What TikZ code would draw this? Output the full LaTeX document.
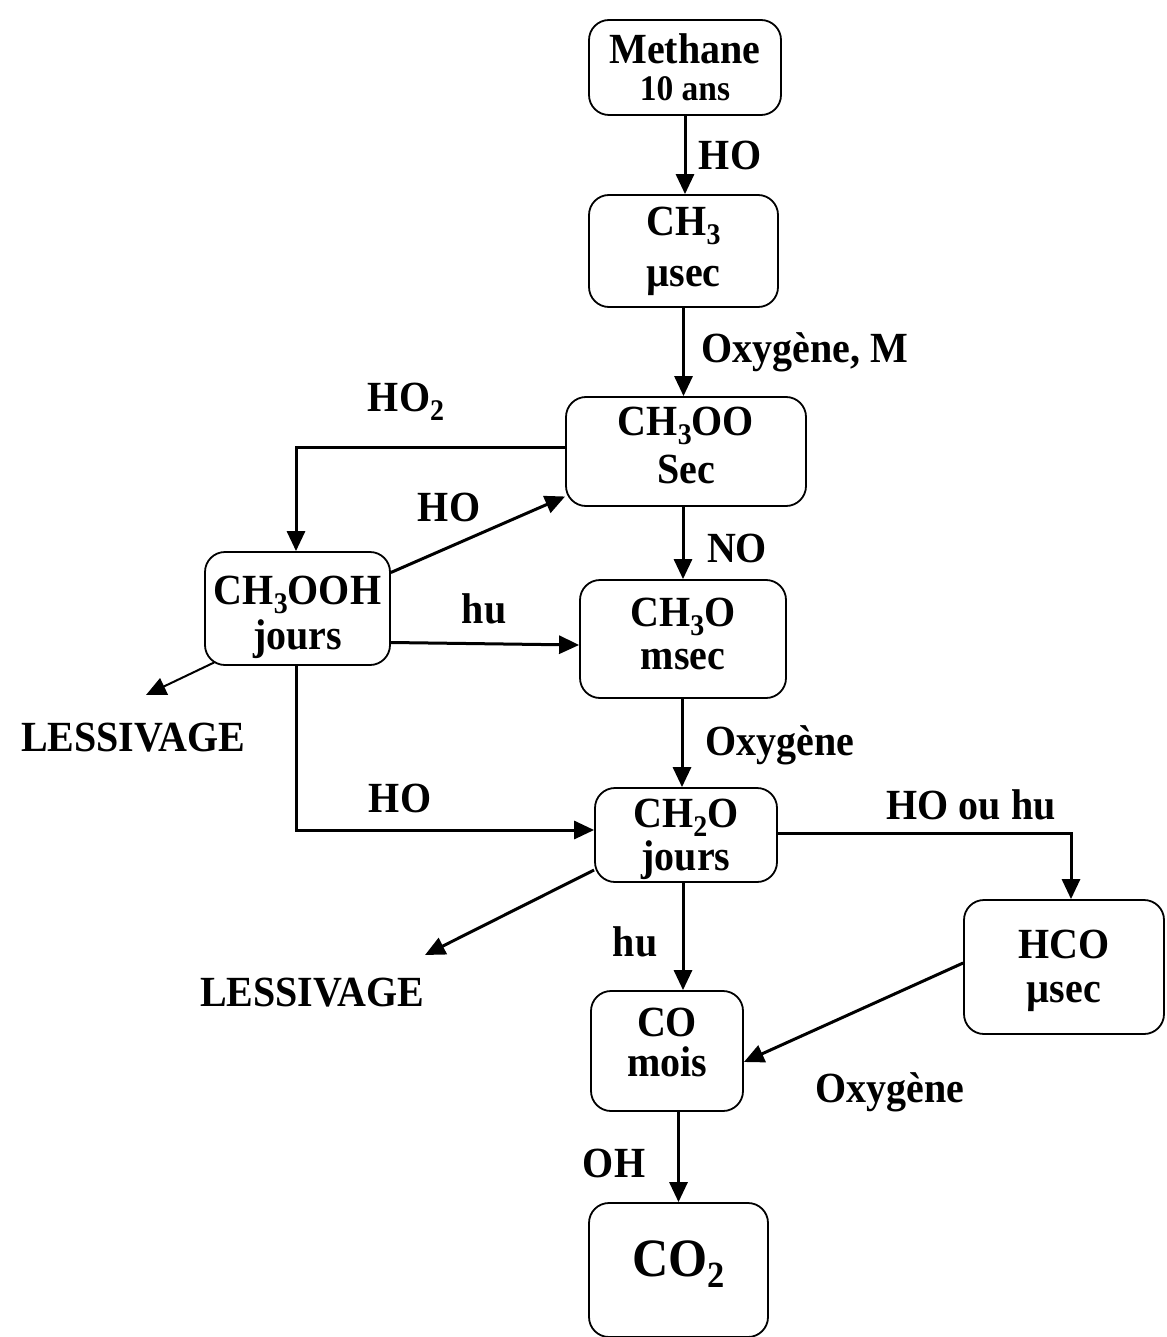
\documentclass[tikz,border=0pt]{standalone}
\usepackage{fontspec}
\setmainfont{Liberation Serif}[FakeStretch=0.93]
\usetikzlibrary{arrows.meta}
\newcommand{\ssub}[1]{\raisebox{-9pt}{\fontsize{30}{30}\selectfont #1}}
\begin{document}
\begin{tikzpicture}[x=1pt,y=-1pt,
 box/.style={draw, line width=1.8pt, rounded corners=20pt, align=center,
   font=\fontsize{43}{42}\selectfont\bfseries, inner sep=0pt},
 arr/.style={line width=3pt, -{Triangle[length=20pt,width=18pt]}},
 thinarr/.style={line width=2pt, -{Triangle[length=20pt,width=18pt]}},
 lbl/.style={font=\fontsize{43}{42}\selectfont\bfseries, inner sep=0pt}]
\useasboundingbox (0,0) rectangle (1166,1337);
\fill[white] (0,0) rectangle (1166,1337);

% boxes
\node[box, minimum width=192pt, minimum height=95pt, text depth=-2pt] (methane) at (685,67.5)
  {Methane\\[-5pt]{\fontsize{36}{36}\selectfont 10 ans}};
\node[box, minimum width=189pt, minimum height=112pt, text depth=9pt] (ch3) at (683.5,251)
  {CH\ssub{3}\\[9pt]µsec};
\node[box, minimum width=240pt, minimum height=109pt, text depth=13pt] (ch3oo) at (686,451.5)
  {CH\ssub{3}OO\\[6pt]Sec};
\node[box, minimum width=185pt, minimum height=113pt, text height=82pt, text depth=0pt] (ch3ooh) at (297.5,608.5)
  {CH\ssub{3}OOH\\[3pt]jours};
\node[box, minimum width=206pt, minimum height=118pt, text depth=10pt] (ch3o) at (683,639)
  {CH\ssub{3}O\\[1pt]msec};
\node[box, minimum width=182pt, minimum height=94pt, text depth=0pt] (ch2o) at (686,835)
  {CH\ssub{2}O\\[1pt]jours};
\node[box, minimum width=200pt, minimum height=134pt, text depth=2pt] (hco) at (1064,967)
  {HCO\\[2pt]µsec};
\node[box, minimum width=152pt, minimum height=120pt, text depth=18pt] (co) at (667,1051)
  {CO\\[-2pt]mois};
\node[box, minimum width=179pt, minimum height=134pt, text depth=23pt,
  font=\fontsize{54}{60}\selectfont\bfseries] (co2) at (678.5,1270)
  {CO\raisebox{-11pt}{\fontsize{37}{37}\selectfont 2}};

% free ends
\coordinate (less1tip) at (146,695);
\coordinate (less2tip) at (425,955);

% connectors
\draw[arr] (methane.south) -- (methane.south |- ch3.north);
\draw[arr] (ch3.south) -- (ch3.south |- ch3oo.north);
\draw[arr] ([yshift=4.5pt]ch3oo.west) -| ([xshift=-1.5pt]ch3ooh.north);
\draw[arr] ([yshift=36pt]ch3ooh.east) -- ([yshift=-45pt]ch3oo.west);
\draw[arr] (ch3o.north |- ch3oo.south) -- (ch3o.north);
\draw[arr] ([yshift=-34pt]ch3ooh.east) -- ([yshift=-6pt]ch3o.west);
\draw[thinarr] ([xshift=10pt,yshift=-54pt]ch3ooh.west) -- (less1tip);
\draw[arr] ([xshift=-1.5pt]ch3ooh.south) |- ([yshift=5pt]ch2o.west);
\draw[arr] ([xshift=-1pt]ch3o.south) -- ([xshift=-1pt]ch3o.south |- ch2o.north);
\draw[arr] ([yshift=-35pt]ch2o.west) -- (less2tip);
\draw[arr] ([yshift=2pt]ch2o.east) -| ([xshift=7pt]hco.north);
\draw[arr] ([xshift=-3pt]ch2o.south) -- ([xshift=-3pt]ch2o.south |- co.north);
\draw[arr] ([yshift=4pt]hco.west) -- ([yshift=-11pt]co.east);
\draw[arr] (co2.north |- co.south) -- (co2.north);

% labels
\node[lbl] (l1) at (730,155) {HO};
\node[lbl] (l2) at (805,352) {Oxygène, M};
\node[lbl] (l3) at (406,402) {HO\ssub{2}};
\node[lbl] (l4) at (449,507) {HO};
\node[lbl] (l5) at (737,548) {NO};
\node[lbl] (l6) at (484,609) {hu};
\node[lbl] (less1) at (133,738) {LESSIVAGE};
\node[lbl] (l7) at (780,745) {Oxygène};
\node[lbl] (l8) at (400,798) {HO};
\node[lbl] (l9) at (971,805) {HO ou hu};
\node[lbl] (l10) at (635,942) {hu};
\node[lbl] (less2) at (312,993) {LESSIVAGE};
\node[lbl] (l11) at (890,1092) {Oxygène};
\node[lbl] (l12) at (614,1163) {OH};
\end{tikzpicture}
\end{document}
